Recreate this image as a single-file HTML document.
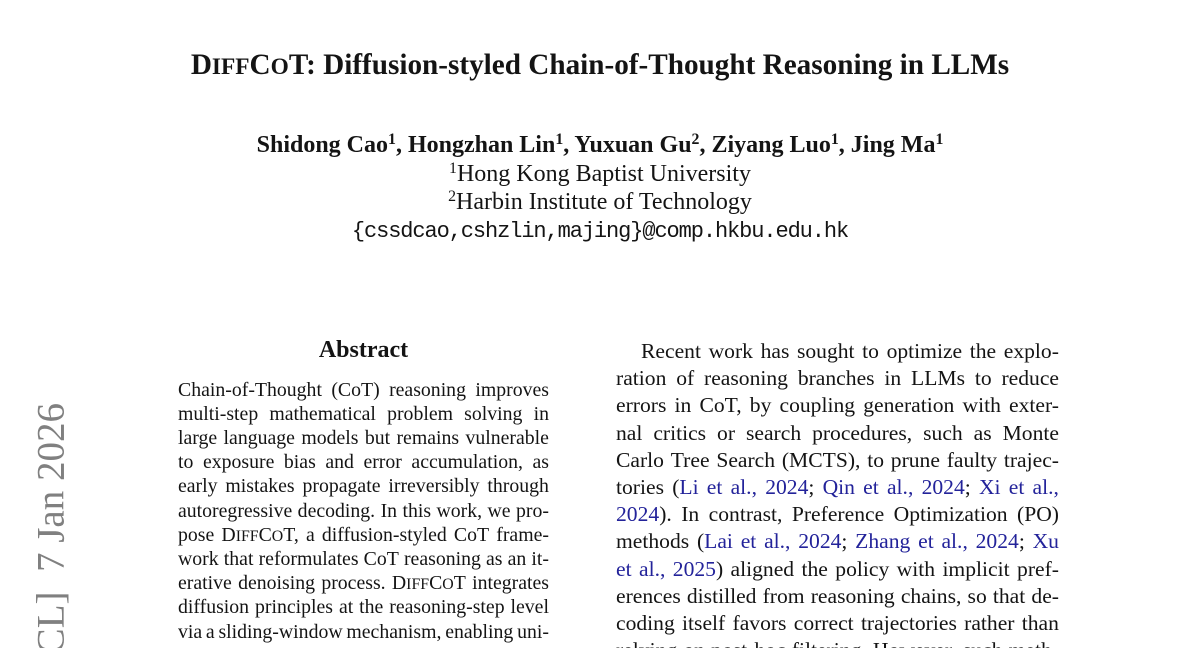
<!DOCTYPE html>
<html>
<head>
<meta charset="utf-8">
<style>
  html,body{margin:0;padding:0;background:#fff;width:1200px;height:648px;overflow:hidden;}
  body{position:relative;
       font-family:"Liberation Serif","Times New Roman",serif;color:#141414;}
  .page{position:absolute;left:0;top:0;width:1200px;height:648px;overflow:hidden;}
  .c{position:absolute;left:0;width:1200px;text-align:center;line-height:1;white-space:nowrap;}
  .title{top:50.7px;font-size:29.2px;font-weight:bold;}
  .auth{top:133px;font-size:24px;font-weight:bold;}
  .aff{font-size:24px;}
  .mail{top:221px;font-family:"Liberation Mono",monospace;font-size:22px;letter-spacing:-1.1px;}
  sup{font-size:0.66em;vertical-align:0;position:relative;top:-0.5em;line-height:0;}
  .sc{font-size:0.8em;}
  .abs{position:absolute;left:178px;width:371px;top:338px;font-size:24px;font-weight:bold;text-align:center;line-height:1;}
  .L,.R{position:absolute;display:flex;justify-content:space-between;white-space:nowrap;line-height:1;}
  .L{left:178px;width:371px;font-size:19.8px;height:20px;}
  .R{left:616px;width:443px;font-size:21.6px;height:22px;}
  .L span,.R span{white-space:nowrap;}
  .cite{color:#23239a;font-style:normal;}
  svg{position:absolute;left:0;top:0;}
  .clip{position:absolute;left:0;top:636px;width:1200px;height:12px;overflow:hidden;}
</style>
</head>
<body>
<div class="page">

<svg width="120" height="648" viewBox="0 0 120 648">
  <text x="63.5" y="403" transform="rotate(-90 63.5 403)" text-anchor="end"
        font-family="Liberation Serif, serif" font-size="39" fill="#808080">arXiv:2601.03559v1&#160;&#160;[cs.CL]&#160;&#160;7&#160;Jan&#160;2026</text>
</svg>

<div class="c title">D<span class="sc">IFF</span>C<span class="sc">O</span>T: Diffusion-styled Chain-of-Thought Reasoning in LLMs</div>

<div class="c auth">Shidong Cao<sup>1</sup>, Hongzhan Lin<sup>1</sup>, Yuxuan Gu<sup>2</sup>, Ziyang Luo<sup>1</sup>, Jing Ma<sup>1</sup></div>
<div class="c aff" style="top:161.5px;"><sup>1</sup>Hong Kong Baptist University</div>
<div class="c aff" style="top:189.5px;"><sup>2</sup>Harbin Institute of Technology</div>
<div class="c mail">{cssdcao,cshzlin,majing}@comp.hkbu.edu.hk</div>

<div class="abs">Abstract</div>

<div class="L" style="top:380.5px;"><span>Chain-of-Thought</span><span>(CoT)</span><span>reasoning</span><span>improves</span></div>
<div class="L" style="top:404.7px;"><span>multi-step</span><span>mathematical</span><span>problem</span><span>solving</span><span>in</span></div>
<div class="L" style="top:428.9px;"><span>large</span><span>language</span><span>models</span><span>but</span><span>remains</span><span>vulnerable</span></div>
<div class="L" style="top:453.1px;"><span>to</span><span>exposure</span><span>bias</span><span>and</span><span>error</span><span>accumulation,</span><span>as</span></div>
<div class="L" style="top:477.3px;"><span>early</span><span>mistakes</span><span>propagate</span><span>irreversibly</span><span>through</span></div>
<div class="L" style="top:501.5px;"><span>autoregressive</span><span>decoding.</span><span>In</span><span>this</span><span>work,</span><span>we</span><span>pro-</span></div>
<div class="L" style="top:525.7px;"><span>pose</span><span>D<span class="sc">IFF</span>C<span class="sc">O</span>T,</span><span>a</span><span>diffusion-styled</span><span>CoT</span><span>frame-</span></div>
<div class="L" style="top:549.9px;"><span>work</span><span>that</span><span>reformulates</span><span>CoT</span><span>reasoning</span><span>as</span><span>an</span><span>it-</span></div>
<div class="L" style="top:574.1px;"><span>erative</span><span>denoising</span><span>process.</span><span>D<span class="sc">IFF</span>C<span class="sc">O</span>T</span><span>integrates</span></div>
<div class="L" style="top:598.3px;"><span>diffusion</span><span>principles</span><span>at</span><span>the</span><span>reasoning-step</span><span>level</span></div>
<div class="L" style="top:622.5px;"><span>via</span><span>a</span><span>sliding-window</span><span>mechanism,</span><span>enabling</span><span>uni-</span></div>

<div class="R" style="top:341px;left:641px;width:418px;"><span>Recent</span><span>work</span><span>has</span><span>sought</span><span>to</span><span>optimize</span><span>the</span><span>explo-</span></div>
<div class="R" style="top:368.2px;"><span>ration</span><span>of</span><span>reasoning</span><span>branches</span><span>in</span><span>LLMs</span><span>to</span><span>reduce</span></div>
<div class="R" style="top:395.4px;"><span>errors</span><span>in</span><span>CoT,</span><span>by</span><span>coupling</span><span>generation</span><span>with</span><span>exter-</span></div>
<div class="R" style="top:422.6px;"><span>nal</span><span>critics</span><span>or</span><span>search</span><span>procedures,</span><span>such</span><span>as</span><span>Monte</span></div>
<div class="R" style="top:449.8px;"><span>Carlo</span><span>Tree</span><span>Search</span><span>(MCTS),</span><span>to</span><span>prune</span><span>faulty</span><span>trajec-</span></div>
<div class="R" style="top:477px;"><span>tories</span><span>(<i class="cite">Li</i></span><span class="cite">et</span><span class="cite">al.,</span><span><i class="cite">2024</i>;</span><span class="cite">Qin</span><span class="cite">et</span><span class="cite">al.,</span><span><i class="cite">2024</i>;</span><span class="cite">Xi</span><span class="cite">et</span><span class="cite">al.,</span></div>
<div class="R" style="top:504.2px;"><span><i class="cite">2024</i>).</span><span>In</span><span>contrast,</span><span>Preference</span><span>Optimization</span><span>(PO)</span></div>
<div class="R" style="top:531.4px;"><span>methods</span><span>(<i class="cite">Lai</i></span><span class="cite">et</span><span class="cite">al.,</span><span><i class="cite">2024</i>;</span><span class="cite">Zhang</span><span class="cite">et</span><span class="cite">al.,</span><span><i class="cite">2024</i>;</span><span class="cite">Xu</span></div>
<div class="R" style="top:558.6px;"><span class="cite">et</span><span class="cite">al.,</span><span><i class="cite">2025</i>)</span><span>aligned</span><span>the</span><span>policy</span><span>with</span><span>implicit</span><span>pref-</span></div>
<div class="R" style="top:585.8px;"><span>erences</span><span>distilled</span><span>from</span><span>reasoning</span><span>chains,</span><span>so</span><span>that</span><span>de-</span></div>
<div class="R" style="top:613px;"><span>coding</span><span>itself</span><span>favors</span><span>correct</span><span>trajectories</span><span>rather</span><span>than</span></div>

<div class="clip">
  <div class="R" style="top:4.2px;"><span>relying</span><span>on</span><span>post-hoc</span><span>filtering.</span><span>However,</span><span>such</span><span>meth-</span></div>
</div>

</div>
</body>
</html>
